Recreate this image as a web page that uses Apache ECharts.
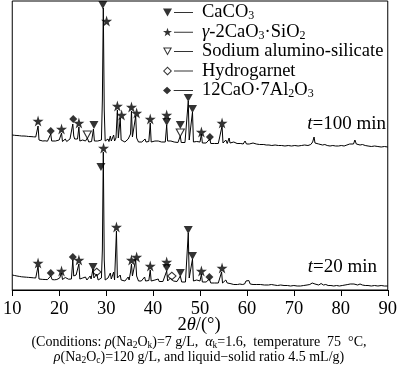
<!DOCTYPE html>
<html><head><meta charset="utf-8">
<script src="https://cdn.jsdelivr.net/npm/echarts@6/dist/echarts.min.js"></script>
<style>html,body{margin:0;padding:0;background:#fff}#c{width:400px;height:383px}</style>
</head><body><div id="c"></div>
<script>
// ---- data (2θ in degrees, intensity in arbitrary units) ----
const xTicks = [10, 20, 30, 40, 50, 60, 70, 80, 90];
const pattern20 = [[10,15],[10.5,14.5],[11,14],[11.5,13.6],[12,13.2],[12.5,13],[13,12.8],[13.5,12.6],[14,12.4],[14.5,12.2],[15,12],[15.3,11.8],[15.5,24],[15.7,11],[16,10.8],[16.5,10.6],[17,10.5],[17.5,10.4],[17.9,10.6],[18.2,14],[18.5,10.4],[19,10.2],[19.5,10.5],[19.8,11],[20.1,12],[20.3,11],[20.5,17],[20.7,10.5],[21,11],[21.3,12.5],[21.6,10.5],[22,10.8],[22.3,12],[22.6,11],[22.9,30],[23.1,14],[23.3,12],[23.6,15],[23.9,13],[24.2,26],[24.4,11],[24.7,10],[25.0,12],[25.3,10],[25.6,13],[25.9,10],[26.3,10.5],[26.6,14],[26.8,11],[27.2,21],[27.4,12],[27.7,11.5],[28.0,16],[28.3,10],[28.7,9.5],[29.0,12],[29.2,40],[29.4,138],[29.6,30],[29.8,10],[30.1,9.5],[30.4,12],[30.6,10],[30.9,17],[31.1,11],[31.4,12],[31.6,18],[31.8,10],[32.0,12],[32.2,59],[32.4,12],[32.7,10],[33.0,15],[33.2,10],[33.6,11],[34.0,9],[34.4,11],[34.7,13],[34.9,10],[35.2,18],[35.4,26],[35.6,14],[35.9,16],[36.3,30],[36.5,14],[36.7,15],[36.9,9],[37.2,11],[37.5,9],[37.9,9.5],[38.2,13],[38.4,9],[38.8,10],[39.1,9.5],[39.4,20],[39.6,9],[40.0,8.5],[40.4,10],[40.7,8],[41.1,11],[41.3,8.5],[41.7,9],[42.1,8.5],[42.5,9],[42.9,19],[43.1,9],[43.4,10],[43.7,12],[44.0,13],[44.3,9],[44.7,8],[45.1,8.5],[45.5,9],[45.8,14],[46.1,8],[46.5,7.5],[46.9,8],[47.2,10],[47.5,57],[47.7,12],[48.0,10],[48.4,31],[48.6,9],[48.9,8],[49.3,10],[49.6,8],[50.0,9],[50.3,16],[50.5,8],[50.9,7],[51.3,8],[51.7,7.5],[52.0,11],[52.3,7],[52.7,6.5],[53.1,7],[53.5,6.5],[53.9,7],[54.3,8],[54.6,18],[54.8,7],[55.1,8],[55.5,10],[55.8,7],[56.1,9],[56.4,6.5],[56.8,7],[57.2,5.5],[57.6,6.5],[58.0,5.5],[58.5,6],[59.0,5.5],[59.5,6],[59.8,9],[60.1,7],[60.4,9.5],[60.7,6],[61.0,8],[61.3,5.5],[61.7,7],[62.1,5.5],[62.5,7.5],[62.9,5.5],[63.3,6],[63.7,5],[64.1,6],[64.6,5],[65.2,5.5],[65.8,5],[66.5,4.5],[67.2,5],[67.9,4.5],[68.6,4.5],[69.3,4],[70.0,4.5],[70.7,4],[71.4,4],[72.1,4.5],[72.8,5],[73.4,5.5],[73.9,7],[74.2,9],[74.5,6],[74.9,7],[75.3,5],[75.8,6.5],[76.3,5],[76.8,5.5],[77.3,4.5],[77.9,4.5],[78.5,4],[79.1,4.5],[79.7,4],[80.3,4.5],[80.9,5],[81.5,5.5],[82.0,6],[82.4,8],[82.8,6],[83.2,7],[83.6,5],[84.1,6],[84.6,5],[85.2,4.5],[85.8,4.5],[86.5,4],[87.2,4.5],[87.9,4],[88.6,4.5],[89.3,4],[90,4]];
const pattern100 = [[10,15],[10.5,14.7],[11,14.5],[11.5,14.3],[12,14],[12.5,14],[13,13.8],[13.5,13.5],[14,13.4],[14.5,13.2],[15,13],[15.3,12.5],[15.5,24],[15.7,10],[16,9.5],[16.5,9],[17,9.2],[17.5,8.8],[17.9,9],[18.2,16],[18.4,9],[18.8,8.5],[19.2,9],[19.6,8.5],[20.0,10],[20.2,9],[20.5,17],[20.7,8.5],[21.0,9],[21.3,11],[21.6,8.5],[22.0,9],[22.3,11],[22.6,10],[22.9,26],[23.1,14],[23.3,11],[23.6,13],[23.9,11],[24.2,23],[24.4,9],[24.7,8],[25.0,10],[25.3,8.5],[25.6,9],[26.0,12],[26.3,8],[26.6,9],[26.9,8.5],[27.3,21],[27.5,9],[27.8,8],[28.2,9],[28.6,8],[29.0,10],[29.2,50],[29.4,142],[29.6,40],[29.8,9],[30.1,8],[30.4,11],[30.6,8.5],[30.9,14],[31.1,9],[31.4,10],[31.6,15],[31.8,9],[32.1,12],[32.4,40],[32.6,12],[32.8,11],[33.0,32],[33.2,10],[33.6,9],[34.0,8],[34.4,9],[34.7,11],[34.9,9],[35.2,16],[35.4,39],[35.6,13],[35.9,15],[36.3,34],[36.5,12],[36.7,14],[36.9,8],[37.3,10],[37.6,8],[38.0,8.5],[38.3,11],[38.5,8],[38.9,9],[39.1,8.5],[39.4,27],[39.6,8],[40.0,7.5],[40.4,9],[40.7,7.5],[41.1,9],[41.4,7.5],[41.8,8],[42.2,7.5],[42.6,8],[42.9,25],[43.1,9],[43.4,8],[43.8,9],[44.1,7.5],[44.5,8],[44.9,7],[45.3,7.5],[45.6,8],[45.8,14],[46.0,7.5],[46.4,7],[46.8,7.5],[47.2,9],[47.5,49],[47.7,10],[48.0,9],[48.4,38],[48.6,8],[48.9,7],[49.3,8.5],[49.7,7],[50.0,8],[50.3,16],[50.5,7],[50.9,6.5],[51.3,7],[51.7,6.5],[52.1,11],[52.3,6.5],[52.7,6],[53.1,6.5],[53.5,6],[53.9,6.5],[54.3,7],[54.7,24],[54.9,7],[55.2,8],[55.5,10],[55.8,6.5],[56.2,12],[56.4,7],[56.8,6],[57.2,8],[57.5,6],[57.9,6.5],[58.3,6],[58.7,6.5],[59.2,6],[59.6,9],[59.9,6],[60.2,8],[60.5,6],[60.9,6.5],[61.3,7],[61.6,5.5],[62.0,6],[62.4,7.5],[62.7,5.5],[63.1,5],[63.6,5.5],[64.1,5],[64.7,5],[65.3,4.5],[66.0,5],[66.7,4.5],[67.4,4.5],[68.1,4],[68.8,4.5],[69.5,4],[70.2,4.5],[70.9,4],[71.6,4.5],[72.3,5],[73.0,4.5],[73.6,5.5],[74.0,8],[74.3,13],[74.5,7],[74.9,9],[75.3,6],[75.7,7.5],[76.1,5],[76.6,5.5],[77.1,4.5],[77.7,4],[78.3,4.5],[78.9,4],[79.5,4],[80.1,4.5],[80.7,4],[81.3,5],[81.9,6],[82.3,8],[82.7,6],[83.0,10],[83.3,6],[83.7,7],[84.1,5],[84.6,5.5],[85.2,4.5],[85.8,4],[86.5,3.5],[87.2,4],[87.9,3.5],[88.6,3],[89.3,3.5],[90,3]];
const offset100 = 140; // vertical stacking offset of the t=100 min pattern

// phase markers [2θ, intensity] for each pattern
const caco3_20  = [[28.9,123],[27.2,23],[42.9,22],[45.8,17],[47.5,60],[48.4,34]];
const c2s_20    = [[15.5,27],[20.5,19],[24.2,30],[29.45,142],[32.2,63],[35.4,30],[36.5,33],[39.4,24],[42.9,28],[50.3,19],[54.7,22]];
const hg_20     = [[28.0,18],[44.0,14]];
const c12a7_20  = [[18.2,17],[22.9,33],[52.0,13]];
const caco3_100 = [[29.3,145],[27.4,25],[42.9,28],[45.8,25],[47.5,52],[48.4,41]];
const c2s_100   = [[15.5,29],[20.5,21],[24.2,27],[30.1,129],[32.4,44],[33.3,35],[35.4,43],[36.5,37],[39.4,31],[42.9,35],[50.3,18],[54.7,27]];
const sas_100   = [[26.0,15],[45.8,17]];
const c12a7_100 = [[18.2,19],[23.0,31],[52.1,13]];

const phaseNames = ['CaCO3', 'C2S', 'SAS', 'HG', 'C12A7'];
const phaseLabels = ['CaCO{s|3}', '{i|γ}-2CaO{s|3}·SiO{s|2}', 'Sodium alumino-silicate', 'Hydrogarnet', '12CaO·7Al{s|2}O{s|3}'];
const sampleLabels = ['{i|t}=100 min', '{i|t}=20 min'];

// ---- drawing ----
const FONT = 'Liberation Serif';
const STAR = 'path://M50,0L61,35L98,35L68,57L79,91L50,70L21,91L32,57L2,35L39,35Z';
const OPEN_TRI = 'path://M0,0L10,0L5,9ZM1.9,1L5,6.8L8.1,1Z';
const OPEN_DIA = 'path://M5,0L10,4.5L5,9L0,4.5ZM5,1.5L1.6,4.5L5,7.5L8.4,4.5Z';
const LINE = 'M11,4L30,4L30,5.1L11,5.1Z';
const legendIcon = {
  CaCO3: 'path://M0,0.5L9,0.5L4.5,8.5Z' + LINE,
  C2S: 'path://M4.5,0L5.6,3.2L9,3.2L6.3,5.2L7.3,8.5L4.5,6.5L1.7,8.5L2.7,5.2L0,3.2L3.4,3.2Z' + LINE,
  SAS: 'path://M0,0.5L9,0.5L4.5,8.5ZM1.8,1.4L4.5,6.6L7.2,1.4Z' + LINE,
  HG: 'path://M4.5,0L9,4.5L4.5,9L0,4.5ZM4.5,1.4L1.4,4.5L4.5,7.6L7.6,4.5Z' + LINE,
  C12A7: 'path://M4.5,0.8L8.5,4.5L4.5,8.2L0.5,4.5Z' + LINE
};
const up = arr => arr.map(p => [p[0], p[1] + offset100]);
function scatter(name, data, symbol, size, rotate) {
  return {
    name, type: 'scatter', data, symbol, symbolSize: size, symbolRotate: rotate || 0,
    itemStyle: {color: '#000', borderWidth: 0}, z: 5, silent: true
  };
}
const chart = echarts.init(document.getElementById('c'));
chart.setOption({
  animation: false,
  grid: {left: 7, right: 10, top: 1, bottom: 93, show: true, borderColor: '#000', borderWidth: 1},
  xAxis: {
    type: 'value', min: xTicks[0], max: xTicks[xTicks.length - 1], interval: 10,
    axisLine: {lineStyle: {color: '#000', width: 1}},
    axisTick: {inside: false, length: 6, lineStyle: {color: '#000'}},
    axisLabel: {fontFamily: FONT, fontSize: 18.5, color: '#000', margin: 10},
    splitLine: {show: false}
  },
  yAxis: {type: 'value', min: 0, max: 289, show: false},
  legend: {
    orient: 'vertical', left: 158, top: -2, itemWidth: 30, itemHeight: 9, itemGap: 0.5,
    selectedMode: false,
    data: phaseNames.map(n => ({name: n, icon: legendIcon[n], itemStyle: {color: '#000', borderWidth: 0}})),
    formatter: n => phaseLabels[phaseNames.indexOf(n)],
    textStyle: {fontFamily: FONT, fontSize: 18.5, color: '#000', lineHeight: 17, padding: [0, 0, 0, 4],
      rich: {
        s: {fontSize: 12, fontFamily: FONT, color: '#000', lineHeight: 10, padding: [7, 0, 0, 0]},
        i: {fontStyle: 'italic', fontFamily: FONT, fontSize: 18.5, color: '#000', lineHeight: 17}
      }}
  },
  series: [
    {type: 'line', data: pattern20, symbol: 'none', lineStyle: {color: '#000', width: 1}, silent: true},
    {type: 'line', data: up(pattern100), symbol: 'none', lineStyle: {color: '#000', width: 1}, silent: true},
    scatter('CaCO3', caco3_20.concat(up(caco3_100)), 'triangle', [9, 8], 180),
    scatter('C2S', c2s_20.concat(up(c2s_100)), STAR, 11, 0),
    scatter('SAS', up(sas_100), OPEN_TRI, [10, 9], 0),
    scatter('HG', hg_20, OPEN_DIA, [10, 9], 0),
    scatter('C12A7', c12a7_20.concat(up(c12a7_100)), 'diamond', [8, 8], 0)
  ],
  graphic: [
    {type: 'text', x: 386, y: 124, style: {text: sampleLabels[0], align: 'right', verticalAlign: 'middle',
      fontFamily: FONT, fontSize: 19, fill: '#000', rich: {i: {fontStyle: 'italic', fontFamily: FONT, fontSize: 19}}}},
    {type: 'text', x: 377, y: 267, style: {text: sampleLabels[1], align: 'right', verticalAlign: 'middle',
      fontFamily: FONT, fontSize: 19, fill: '#000', rich: {i: {fontStyle: 'italic', fontFamily: FONT, fontSize: 19}}}},
    {type: 'text', x: 199, y: 325, style: {text: '2{i|θ}/(°)', align: 'center', verticalAlign: 'middle',
      fontFamily: FONT, fontSize: 18.5, fill: '#000', rich: {i: {fontStyle: 'italic', fontFamily: FONT, fontSize: 18.5}}}},
    {type: 'text', x: 199, y: 350, style: {
      text: '(Conditions: {i|ρ}(Na{s|2}O{s|k})=7 g/L,  {i|α}{s|k}=1.6,  temperature  75  °C,\n{i|ρ}(Na{s|2}O{s|c})=120 g/L, and liquid−solid ratio 4.5 mL/g)',
      align: 'center', verticalAlign: 'middle', fontFamily: FONT, fontSize: 14, lineHeight: 15, fill: '#000',
      rich: {i: {fontStyle: 'italic', fontFamily: FONT, fontSize: 14, lineHeight: 15}, s: {fontSize: 9.5, fontFamily: FONT, padding: [5, 0, 0, 0], lineHeight: 10}}}}
  ]
});
</script></body></html>
